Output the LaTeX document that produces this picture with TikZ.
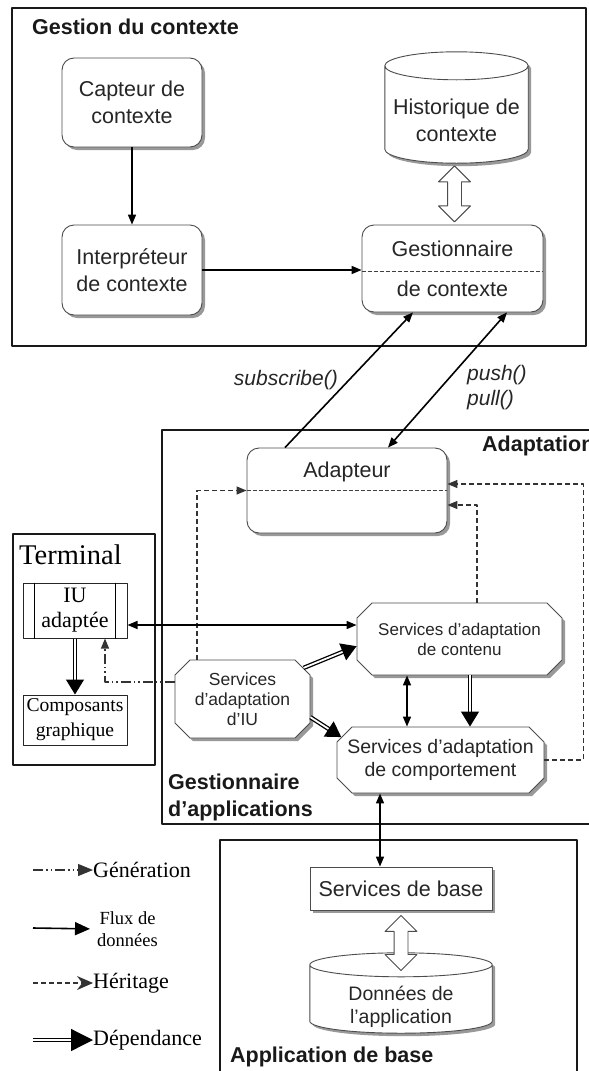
\documentclass[tikz,border=0pt]{standalone}
\usepackage{fontspec}
\setmainfont{Liberation Serif}
\setsansfont{Liberation Sans}
\usetikzlibrary{arrows.meta,shapes.misc,shapes.arrows,shadows,calc}
\newcommand{\fsz}[2]{\fontsize{#1}{#2}\selectfont}
% cylindre dessine autour d'un noeud (nom, rayon de l'ellipse)
\newcommand{\cylshape}[2]{%
	\path[cylline] let \p1=(#1.north west), \p2=(#1.south east), \n1={(\x2-\x1)/2} in
		(\x1,\y1-#2) -- (\x1,\y2+#2) arc[start angle=180, end angle=360, x radius=\n1, y radius=#2]
		-- (\x2,\y1-#2) arc[start angle=0, end angle=180, x radius=\n1, y radius=#2] -- cycle
		(\x1,\y1-#2) arc[start angle=180, end angle=360, x radius=\n1, y radius=#2];
}
\begin{document}
\begin{tikzpicture}[x=1pt, y=-1pt, line join=round, >={Triangle[length=10pt,width=8pt]}]
	\tikzset{
		frame/.style={line width=2.6pt, black!90},
		shade/.style={drop shadow={shadow xshift=3pt, shadow yshift=-3pt, fill=black!40, opacity=1}},
		box/.style={draw=black!70, line width=0.9pt, fill=white, inner sep=0pt, align=center, text=black!85,
			font=\sffamily\fsz{21.5}{26.7}, shade},
		rbox/.style={box, rounded corners=12pt},
		cylbox/.style={inner sep=0pt},
		cylline/.style={draw=black!70, line width=0.9pt, fill=white, shade},
		obox/.style={box, chamfered rectangle, chamfered rectangle xsep=7.5pt, chamfered rectangle ysep=7.5pt},
		tbox/.style={draw=black!85, line width=1pt, fill=white, inner sep=0pt, align=center, font=\rmfamily\fsz{22}{25}},
		ttl/.style={inner sep=0pt, font=\sffamily\bfseries\fsz{21.5}{27}, text=black!90},
		txt/.style={inner sep=0pt, align=center, anchor=center, text=black!85, font=\sffamily\fsz{21.5}{26.7}},
		msg/.style={inner sep=0pt, align=left, font=\sffamily\itshape\fsz{21}{25}, text=black!85},
		legtxt/.style={inner sep=0pt, align=center, font=\rmfamily\fsz{22}{24}},
		flux/.style={line width=1.6pt, ->},
		flux2/.style={line width=1.6pt, <->},
		herit/.style={line width=1.3pt, black!80, dash pattern=on 5pt off 3pt, ->},
		gen/.style={line width=1.2pt, black!80, dash pattern=on 10pt off 3pt on 1.5pt off 3pt on 1.5pt off 3pt, ->},
		dep/.style={line width=1.3pt, double=white, double distance=1.8pt, -{Triangle[length=15pt,width=18pt]}},
		hollow/.style={double arrow, draw=black!70, fill=white, line width=0.9pt, inner xsep=0pt, inner ysep=6.5pt,
			minimum width=31pt, double arrow head extend=9pt, rotate=90},
		sep/.style={black!75, line width=0.9pt, dash pattern=on 4pt off 2pt}
	}
	\useasboundingbox (0,0) rectangle (589,1071);
	% cadres
	\draw[frame] (12,8) rectangle (586,346);
	\draw[frame] (162,430) rectangle (600,824);
	\draw[frame] (13,534) rectangle (155,765);
	\draw[frame] (220,840) rectangle (577,1085);
	\node[ttl, anchor=west] (tctx) at (32,27) {Gestion du contexte};
	\node[ttl, anchor=west] (tadapt) at (482,446) {Adaptation};
	\node[ttl, anchor=west, align=left] (tgest) at (168,797) {Gestionnaire\\d'applications};
	\node[ttl, anchor=west] (tbase) at (230,1057) {Application de base};
	\node[anchor=west, inner sep=0pt, font=\rmfamily\fsz{28.5}{30}] (tterm) at (19,555) {Terminal};

	% gestion du contexte
	\node[rbox, minimum width=140pt, minimum height=89pt] (capteur) at (132,102.5) {Capteur de\\contexte};
	\node[rbox, minimum width=140pt, minimum height=90pt] (interp) at (132,270) {Interpréteur\\de contexte};
	\node[cylbox, minimum width=143pt, minimum height=111pt] (histo) at (456.5,107.5) {};
	\cylshape{histo}{14pt}
	\node[txt] (thisto) at ($(histo.center)+(0,13)$) {Historique de\\contexte};
	\node[rbox, minimum width=181pt, minimum height=87pt] (gestctx) at (452.5,268.5) {Gestionnaire\\[13pt]de contexte};
	\draw[sep] ([yshift=-2.5pt]gestctx.west) -- ([yshift=-2.5pt]gestctx.east);
	\draw[flux] (capteur) -- (interp);
	\draw[flux] (interp.east) -- (interp.east -| gestctx.west);
	\node[hollow, minimum height=56pt] (hctx) at ($(histo.south)!0.5!(gestctx.north)$) {};

	% adaptation
	\node[rbox, minimum width=200pt, minimum height=85pt,
		label={[txt, yshift=-24pt]north:Adapteur}] (adapteur) at (347,490.5) {};
	\draw[sep] (adapteur.west) -- (adapteur.east);
	\draw[flux] ([xshift=-62pt]adapteur.north) -- ([xshift=-39.5pt]gestctx.south);
	\draw[flux2] ([xshift=54.5pt]gestctx.south) -- ([xshift=41pt]adapteur.north);
	\node[msg, anchor=east] (msub) at (338,380) {subscribe()};
	\node[msg, anchor=west] (mpush) at (467,387.5) {push()\\pull()};

	\node[obox, font=\sffamily\fsz{17}{20}, minimum width=205pt, minimum height=72pt] (contenu) at (459.5,639) {Services d'adaptation\\de contenu};
	\node[obox, font=\sffamily\fsz{17.5}{20}, minimum width=135pt, minimum height=78pt] (ssiu) at (242.5,699) {Services\\d'adaptation\\d'IU};
	\node[obox, font=\sffamily\fsz{19.5}{23}, minimum width=207pt, minimum height=66pt] (comport) at (440.5,760) {Services d'adaptation\\de comportement};

	\draw[herit] ([xshift=-45.5pt]ssiu.north) |- (adapteur.west);
	\draw[herit] (comport.east) -- ++(39,0) |- ([yshift=6.5pt]adapteur.east);
	\draw[herit] ([xshift=17.5pt]contenu.north) |- ([yshift=-14.5pt]adapteur.east);

	\draw[dep] (ssiu.27) -- (contenu.184);
	\draw[dep] (ssiu.-15) -- (comport.167);
	\draw[flux2] ([xshift=-52.5pt]contenu.south) -- ([xshift=-52.5pt]contenu.south |- comport.north);
	\draw[dep] ([xshift=10.5pt]contenu.south) -- ([xshift=10.5pt]contenu.south |- comport.north);

	% terminal
	\node[tbox, minimum width=104pt, minimum height=55pt] (iu) at (75,610.5) {IU\\adaptée};
	\draw[line width=1pt] ([xshift=12pt]iu.north west) -- ([xshift=12pt]iu.south west);
	\draw[line width=1pt] ([xshift=-12pt]iu.north east) -- ([xshift=-12pt]iu.south east);
	\node[tbox, font=\rmfamily\fsz{19.6}{25}, minimum width=104pt, minimum height=50pt] (compo) at (75,720) {Composants\\graphique};
	\draw[dep] (iu) -- (compo);
	\draw[gen] ([yshift=17pt]ssiu.west) -| ([xshift=30pt]iu.south);
	\draw[flux2] ([yshift=-14.5pt]iu.east) -- ([yshift=-14.5pt]iu.east -| contenu.west);

	% application de base
	\node[box, minimum width=182pt, minimum height=43pt] (svcbase) at (401,888.5) {Services de base};
	\node[cylbox, minimum width=182pt, minimum height=80pt] (donnees) at (401,993) {};
	\cylshape{donnees}{12pt}
	\node[txt, font=\sffamily\fsz{19.5}{23}] (tdonnees) at ($(donnees.center)+(0,13.5)$) {Données de\\l'application};
	\node[hollow, minimum height=55pt] (hbase) at ($(svcbase.south)+(0,32.5)$) {};
	\draw[flux2] ([xshift=-60.5pt]comport.south) -- ([xshift=-60.5pt]comport.south |- svcbase.north);

	% legende
	\coordinate (g0) at (33,870);
	\node[legtxt, anchor=west] (lgen) at (93,870) {Génération};
	\draw[gen, -{Triangle[length=15pt,width=12pt]}] (g0) -- (lgen.west);
	\coordinate (f0) at (33,928);
	\node[legtxt, anchor=west, font=\rmfamily\fsz{18.5}{22}] (lflux) at (97,929) {Flux de\\données};
	\draw[line width=1.6pt, -{Triangle[length=15pt,width=13pt]}, shorten >=7pt] (f0) -- (lflux.west);
	\coordinate (h0) at (33,983);
	\node[legtxt, anchor=west] (lher) at (93,983) {Héritage};
	\draw[herit, -{Stealth[length=16pt,width=14pt]}] (h0) -- (lher.west);
	\coordinate (d0) at (33,1040);
	\node[legtxt, anchor=west] (ldep) at (93,1040) {Dépendance};
	\draw[dep, -{Triangle[length=22pt,width=22pt]}] (d0) -- (ldep.west);
\end{tikzpicture}
\end{document}
